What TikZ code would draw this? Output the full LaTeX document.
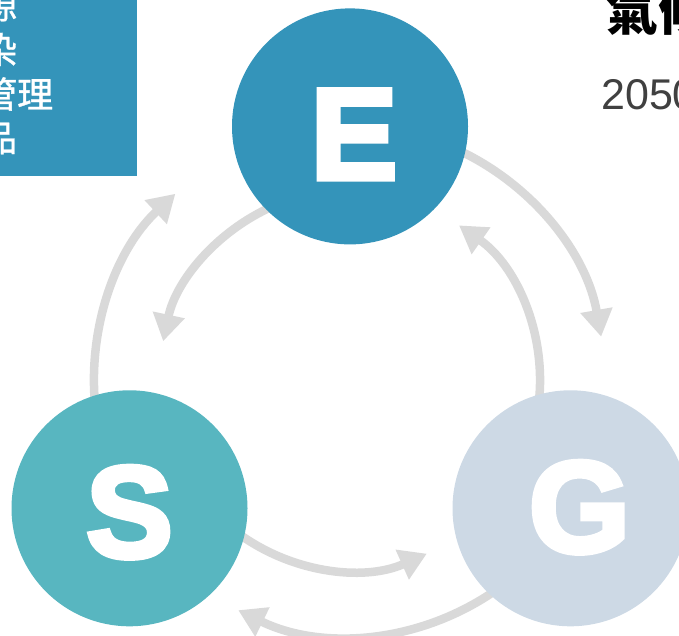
\documentclass[tikz,border=0pt]{standalone}
\usepackage{fontspec}
\setmainfont{Liberation Sans}
\newfontfamily\cjk{Noto Sans CJK TC}
\newfontfamily\cjkpanel{Noto Sans CJK TC}[FakeBold=1]
\newfontfamily\heavy{Liberation Sans Bold}[FakeBold=4]
\usetikzlibrary{positioning, calc, arrows.meta, backgrounds}
\definecolor{eblue}{HTML}{3494BA}
\definecolor{steal}{HTML}{58B6C0}
\definecolor{gpale}{HTML}{CDD9E5}
\definecolor{loopgray}{HTML}{D9D9D9}
\definecolor{textgray}{HTML}{404040}
\tikzstyle{Pillar} = [circle, inner sep=0pt, minimum size=236pt]
\tikzstyle{Letter} = [text=white, font=\heavy\fontsize{130}{130}\selectfont]
\tikzstyle{Loop} = [line width=8.5pt, draw=loopgray,
-{Triangle[length=27pt, width=31pt]}]
\tikzstyle{Panel} = [inner sep=0pt, anchor=west, text=white,
font=\cjkpanel\fontsize{36}{36}\selectfont]

\begin{document}
\begin{tikzpicture}[x=1pt, y=1pt]
    \useasboundingbox (0,0) rectangle (679,636);
    \node [fill=eblue, inner sep=0pt, minimum width=200pt, minimum height=200pt, anchor=south east](panel) at (137,460){};
    \node [Panel](p1) at (-19,631){源};
    \node [Panel](p2) at (-19,586.5){染};
    \node [Panel](p3) at (-19,542){管理};
    \node [Panel](p4) at (-19,497.5){品};

    \node [inner sep=0pt, anchor=west, font=\cjk\bfseries\fontsize{52}{52}\selectfont](title) at (606,625){氣候};
    \node [inner sep=0pt, anchor=base west, text=textgray, font=\fontsize{43}{43}\selectfont](year) at (601,526){2050};

    \node [Pillar, fill=eblue, label={[Letter, xshift=4pt, yshift=-8pt]center:E}](E) at (350,509.6){};
    \node [Pillar, fill=steal, label={[Letter, yshift=-4pt]center:S}](S) at (129.5,127.7){};
    \node [Pillar, fill=gpale, label={[Letter, xshift=9pt, yshift=1pt]center:G}](G) at (570.5,127.7){};
    \coordinate (mid) at (barycentric cs:E=1,S=1,G=1);

    \begin{scope}[on background layer]
    \draw [Loop] ($(mid)+(188:256)$) arc [start angle=188, end angle=133, radius=256];
    \draw [Loop] ($(mid)+(112:191)$) arc [start angle=112, end angle=168, radius=191];
    \draw [Loop] ($(mid)+(68:255)$) arc [start angle=68, end angle=10, radius=255];
    \draw [Loop] ($(mid)+(-8:190)$) arc [start angle=-8, end angle=55, radius=190];
    \draw [Loop] ($(mid)+(232:189)$) arc [start angle=232, end angle=294, radius=189];
    \draw [Loop] ($(mid)+(-52:255)$) arc [start angle=-52, end angle=-116, radius=255];
    \end{scope}
\end{tikzpicture}
\end{document}
